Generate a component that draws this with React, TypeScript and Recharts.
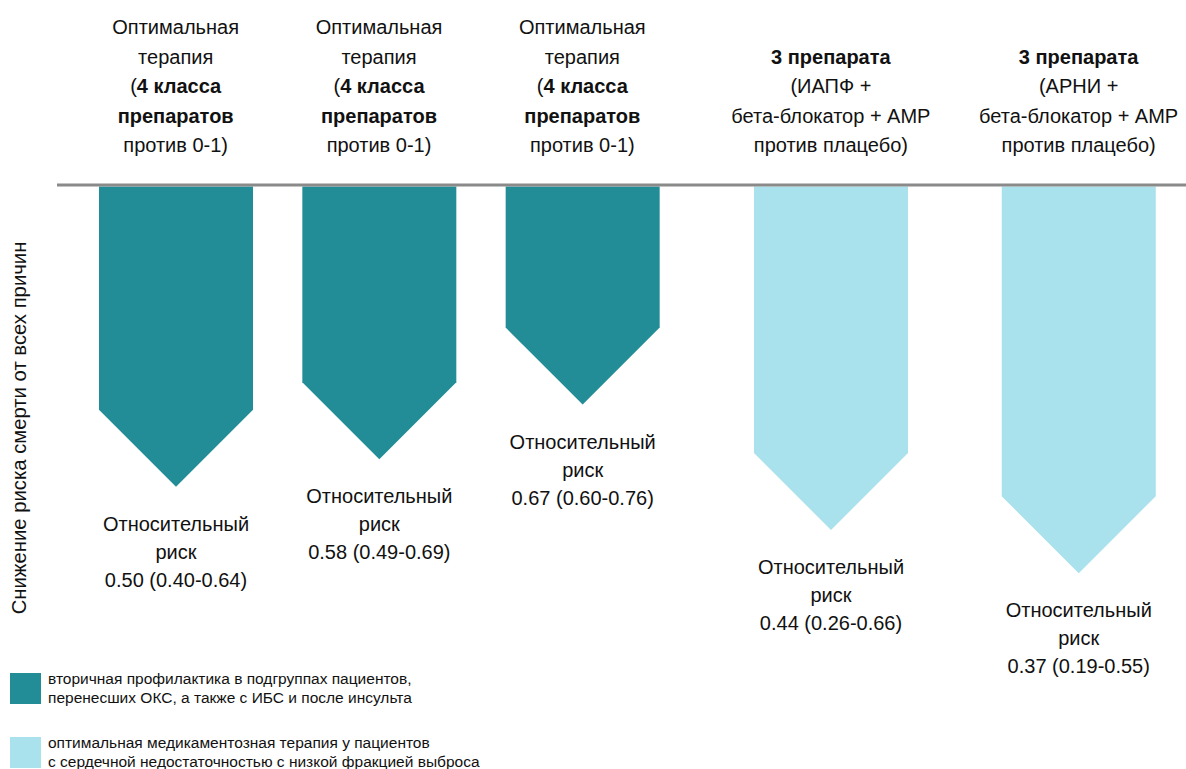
import { Bar, BarChart, XAxis, YAxis } from "recharts";

// tick labels / categories
const treatments = ["ОМТ-1", "ОМТ-2", "ОМТ-3", "ИАПФ", "АРНИ"];
// depth of each arrow (drawn risk reduction)
const reduction = [0.503, 0.457, 0.366, 0.575, 0.647];
const riskValues = ["0.50 (0.40-0.64)", "0.58 (0.49-0.69)", "0.67 (0.60-0.76)", "0.44 (0.26-0.66)", "0.37 (0.19-0.55)"];

type Seg = { t: string; b?: boolean };
const optimal: Seg[][] = [
  [{ t: "Оптимальная" }],
  [{ t: "терапия" }],
  [{ t: "(" }, { t: "4 класса", b: true }],
  [{ t: "препаратов", b: true }],
  [{ t: "против 0-1)" }],
];
const headers: Seg[][][] = [
  optimal,
  optimal,
  optimal,
  [[{ t: "3 препарата", b: true }], [{ t: "(ИАПФ +" }], [{ t: "бета-блокатор + АМР" }], [{ t: "против плацебо)" }]],
  [[{ t: "3 препарата", b: true }], [{ t: "(АРНИ +" }], [{ t: "бета-блокатор + АМР" }], [{ t: "против плацебо)" }]],
];

const legendItems = [
  { color: "#228d96", lines: ["вторичная профилактика в подгруппах пациентов,", "перенесших ОКС, а также с ИБС и после инсульта"] },
  { color: "#a9e1ec", lines: ["оптимальная медикаментозная терапия у пациентов", "с сердечной недостаточностью с низкой фракцией выброса"] },
];

const rows = treatments.map((name, i) => ({ name, value: reduction[i], rr: riskValues[i], idx: i }));
const dataA = rows.slice(0, 3);
const dataB = rows.slice(3);

const FONT = "'Liberation Sans', Arial, sans-serif";

function Arrow(props: any) {
  const { x, y, width, height, fill, payload } = props;
  const top = Math.min(y, y + height);
  const bottom = Math.max(y, y + height);
  const half = width / 2;
  const cx = x + half;
  const pts = `${x},${top + 1.5} ${x + width},${top + 1.5} ${x + width},${bottom - half} ${cx},${bottom} ${x},${bottom - half}`;
  return (
    <g>
      <polygon points={pts} fill={fill} />
      <text x={cx} y={bottom + 44} textAnchor="middle" fontSize={20} fill="#111" fontFamily={FONT}>
        <tspan x={cx}>Относительный</tspan>
        <tspan x={cx} dy={28}>риск</tspan>
        <tspan x={cx} dy={28}>{payload.rr}</tspan>
      </text>
    </g>
  );
}

function HeaderTick(props: any) {
  const { x, payload } = props;
  const i = treatments.indexOf(payload.value);
  const lines = headers[i];
  const n = lines.length;
  return (
    <g>
      {lines.map((segs, k) => (
        <text key={k} x={x} y={152 - (n - 1 - k) * 29.5} textAnchor="middle" fontSize={20} fill="#111" fontFamily={FONT}>
          {segs.map((s, j) => (
            <tspan key={j} fontWeight={s.b ? "bold" : "normal"}>{s.t}</tspan>
          ))}
        </text>
      ))}
    </g>
  );
}

function YTitle() {
  return (
    <text transform="translate(26,428) rotate(-90)" textAnchor="middle" fontSize={20.3} fill="#111" fontFamily={FONT}>
      Снижение риска смерти от всех причин
    </text>
  );
}

export default function App() {
  return (
    <div style={{ position: "absolute", left: 0, top: 0, width: 1186, height: 769, overflow: "hidden", background: "#fff", fontFamily: FONT }}>
      <div style={{ position: "absolute", left: 0, top: 0 }}>
        <BarChart width={684} height={769} data={dataA} margin={{ top: 0, right: 0, bottom: 44, left: 0 }} barSize={154}>
          <XAxis
            dataKey="name"
            orientation="top"
            height={185}
            interval={0}
            tickLine={false}
            axisLine={{ stroke: "#8a8a8a", strokeWidth: 3 }}
            tick={<HeaderTick />}
            padding={{ left: 17, right: 0 }}
          />
          <YAxis domain={[0, 0.9]} reversed width={57} tick={false} axisLine={false} tickLine={false} label={<YTitle />} />
          <Bar dataKey="value" fill="#228d96" shape={<Arrow />} isAnimationActive={false} />
        </BarChart>
      </div>
      <div style={{ position: "absolute", left: 684, top: 0 }}>
        <BarChart width={518.5} height={769} data={dataB} margin={{ top: 0, right: 0, bottom: 44, left: 0 }} barSize={154}>
          <XAxis
            dataKey="name"
            orientation="top"
            height={185}
            interval={0}
            tickLine={false}
            axisLine={{ stroke: "#8a8a8a", strokeWidth: 3 }}
            tick={<HeaderTick />}
            padding={{ left: 23, right: 0 }}
          />
          <YAxis domain={[0, 0.9]} reversed hide />
          <Bar dataKey="value" fill="#a9e1ec" shape={<Arrow />} isAnimationActive={false} />
        </BarChart>
      </div>
      {legendItems.map((it, k) => (
        <div key={k} style={{ position: "absolute", left: 10, top: 673 + k * 64, display: "flex", alignItems: "flex-start" }}>
          <div style={{ width: 31, height: 31, background: it.color }} />
          <div style={{ marginLeft: 7, marginTop: -4, fontSize: 15.5, lineHeight: "19px", color: "#111" }}>
            {it.lines.map((l, j) => (
              <div key={j}>{l}</div>
            ))}
          </div>
        </div>
      ))}
    </div>
  );
}
